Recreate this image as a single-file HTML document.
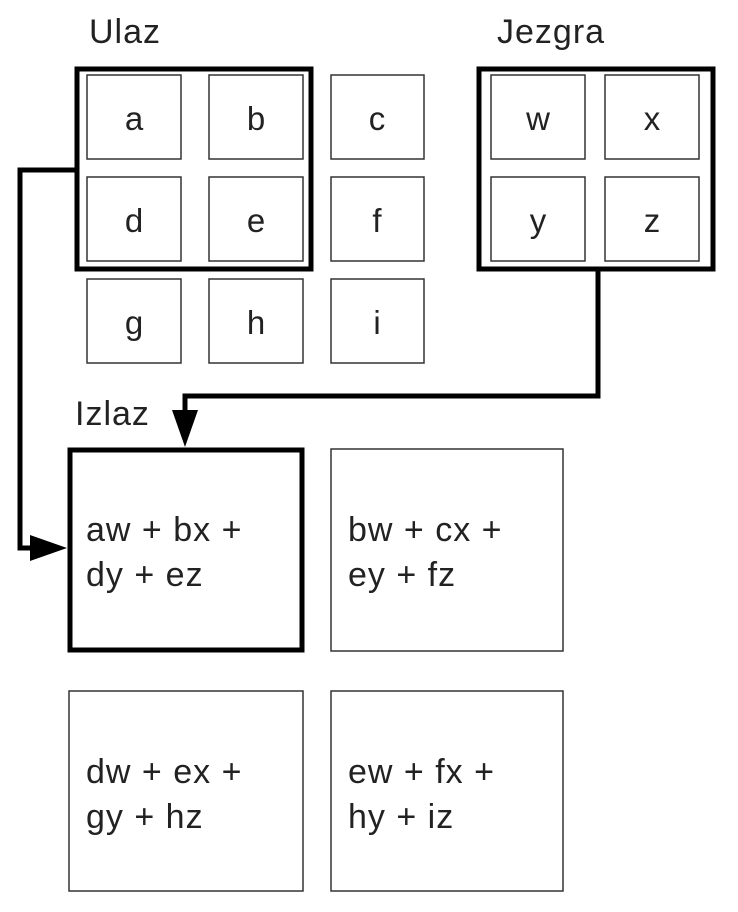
<!DOCTYPE html>
<html><head><meta charset="utf-8"><style>
html,body{margin:0;padding:0;background:#fff;}
svg{display:block;font-family:"Liberation Sans",Arial,sans-serif;}
</style></head><body>
<svg width="738" height="912" viewBox="0 0 738 912">
<g fill="#222" font-size="34" letter-spacing="1">
<text x="89" y="43">Ulaz</text>
<text x="497" y="43">Jezgra</text>
<text x="75" y="425">Izlaz</text>
</g>
<g fill="none" stroke="#333" stroke-width="1.5">
<rect x="87" y="75" width="94" height="84"/>
<rect x="209" y="75" width="94" height="84"/>
<rect x="331" y="75" width="93" height="84"/>
<rect x="87" y="177" width="94" height="84"/>
<rect x="209" y="177" width="94" height="84"/>
<rect x="331" y="177" width="93" height="84"/>
<rect x="87" y="279" width="94" height="84"/>
<rect x="209" y="279" width="94" height="84"/>
<rect x="331" y="279" width="93" height="84"/>
<rect x="491" y="75" width="94" height="84"/>
<rect x="605" y="75" width="94" height="84"/>
<rect x="491" y="177" width="94" height="84"/>
<rect x="605" y="177" width="94" height="84"/>
<rect x="331" y="449" width="232" height="202"/>
<rect x="69" y="691" width="234" height="200"/>
<rect x="331" y="691" width="232" height="200"/>
</g>
<g fill="#222" font-size="33" text-anchor="middle">
<text x="134" y="130">a</text><text x="256" y="130">b</text><text x="377" y="130">c</text>
<text x="134" y="232">d</text><text x="256" y="232">e</text><text x="377" y="232">f</text>
<text x="134" y="334">g</text><text x="256" y="334">h</text><text x="377" y="334">i</text>
<text x="538" y="130">w</text><text x="652" y="130">x</text>
<text x="538" y="232">y</text><text x="652" y="232">z</text>
</g>
<g fill="none" stroke="#000" stroke-width="5">
<rect x="77" y="69" width="234" height="200"/>
<rect x="479" y="69" width="234" height="200"/>
<rect x="70" y="450" width="232" height="200"/>
<polyline points="76,170 20,170 20,548 40,548"/>
<polyline points="598,269 598,396 185,396 185,420"/>
</g>
<polygon points="30,535 67,548 30,561" fill="#000"/>
<polygon points="172,410 198,410 185,447" fill="#000"/>
<g fill="#222" font-size="34" letter-spacing="1">
<text x="86" y="541">aw + bx +</text><text x="86" y="586">dy + ez</text>
<text x="348" y="541">bw + cx +</text><text x="348" y="586">ey + fz</text>
<text x="86" y="783">dw + ex +</text><text x="86" y="828">gy + hz</text>
<text x="348" y="783">ew + fx +</text><text x="348" y="828">hy + iz</text>
</g>
</svg>
</body></html>
